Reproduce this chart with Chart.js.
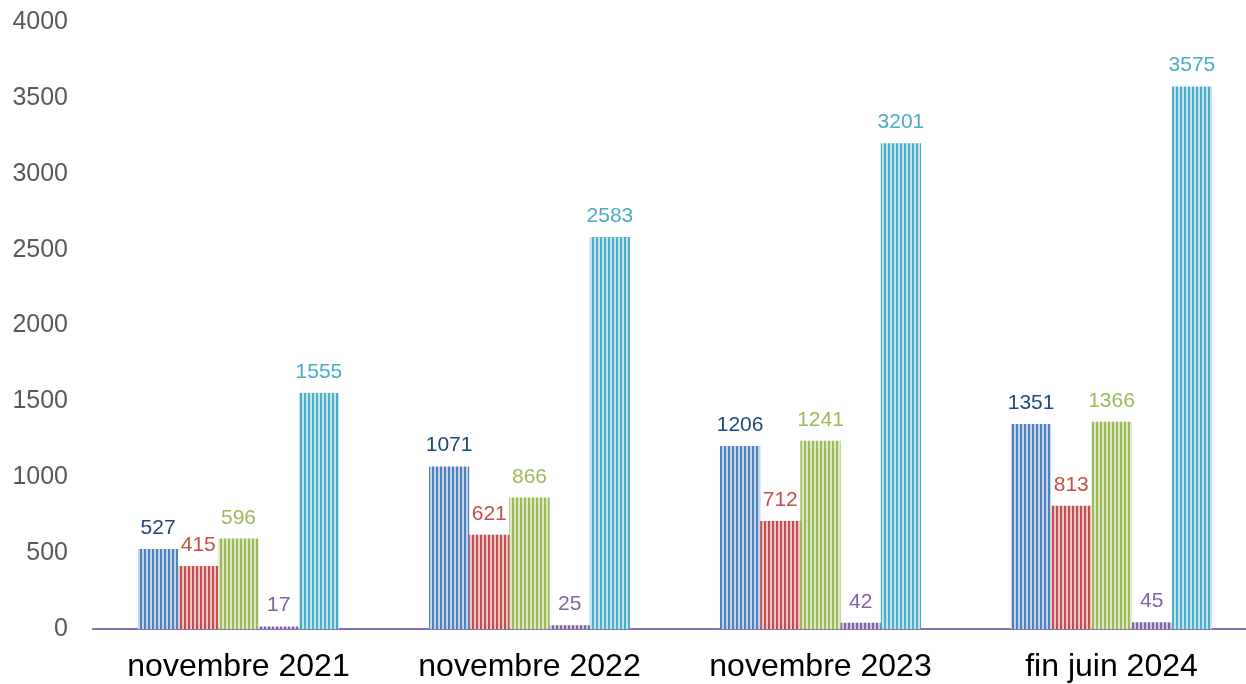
<!DOCTYPE html>
<html>
<head>
<meta charset="utf-8">
<script src="https://cdn.jsdelivr.net/npm/chart.js@4/dist/chart.umd.min.js"></script>
<style>
  html, body { margin: 0; padding: 0; background: #fff; overflow: hidden; }
  #wrap { position: relative; width: 1257px; height: 684px; }
</style>
</head>
<body>
<div id="wrap"><canvas id="c"></canvas></div>
<script>
const categories = ["novembre 2021", "novembre 2022", "novembre 2023", "fin juin 2024"];
const seriesA = [527, 1071, 1206, 1351];
const seriesB = [415, 621, 712, 813];
const seriesC = [596, 866, 1241, 1366];
const seriesD = [17, 25, 42, 45];
const seriesE = [1555, 2583, 3201, 3575];
const yTicks = [0, 500, 1000, 1500, 2000, 2500, 3000, 3500, 4000];

const barColors = ["#4F81BD", "#C0504D", "#9BBB59", "#8064A2", "#4BACC6"];
const lightColors = ["#C3D3EA", "#EBC3C2", "#DCE8C4", "#D2C7E0", "#C0E3EC"];
const labelColors = ["#1F497D", "#C0504D", "#9BBB59", "#8064A2", "#4BACC6"];

function makePattern(dark, light) {
  const p = document.createElement('canvas');
  p.width = 4; p.height = 4;
  const g = p.getContext('2d');
  g.fillStyle = light; g.fillRect(0, 0, 4, 4);
  g.fillStyle = dark; g.fillRect(0, 0, 2, 4);
  return g.createPattern(p, 'repeat');
}

const seriesList = [seriesA, seriesB, seriesC, seriesD, seriesE];
const datasets = seriesList.map((s, i) => ({
  label: 'S' + (i + 1),
  data: s,
  backgroundColor: makePattern(barColors[i], lightColors[i]),
  borderWidth: 0,
  categoryPercentage: 0.691,
  barPercentage: 1.0
}));

const valueLabels = {
  id: 'valueLabels',
  afterDatasetsDraw(chart) {
    const ctx = chart.ctx;
    ctx.save();
    ctx.font = '21px "Liberation Sans", Arial, sans-serif';
    ctx.textAlign = 'center';
    ctx.textBaseline = 'alphabetic';
    chart.data.datasets.forEach((ds, i) => {
      const meta = chart.getDatasetMeta(i);
      ctx.fillStyle = labelColors[i];
      meta.data.forEach((el, j) => {
        ctx.fillText(String(ds.data[j]), el.x, el.y - 15);
      });
    });
    ctx.restore();
  }
};

new Chart(document.getElementById('c'), {
  type: 'bar',
  data: { labels: categories, datasets },
  options: {
    responsive: true,
    maintainAspectRatio: false,
    animation: false,
    layout: { padding: { top: 22, right: 0, left: 0, bottom: 0 } },
    plugins: { legend: { display: false }, tooltip: { enabled: false } },
    scales: {
      x: {
        grid: { display: false, drawTicks: false },
        border: { display: true, color: '#8A6FB0', width: 2 },
        ticks: {
          color: '#000000',
          font: { family: '"Liberation Sans", Arial, sans-serif', size: 32 },
          padding: 19,
          maxRotation: 0
        },
        afterFit(scale) { scale.height = 55; scale.paddingLeft = 0; scale.paddingRight = 0; }
      },
      y: {
        min: 0,
        max: 4000,
        afterBuildTicks(scale) { scale.ticks = yTicks.map(v => ({ value: v })); },
        grid: { display: false, drawTicks: false },
        border: { display: false },
        ticks: {
          color: '#595959',
          font: { family: '"Liberation Sans", Arial, sans-serif', size: 25 },
          padding: 25,
          callback: (v) => String(v)
        },
        afterFit(scale) { scale.width = 93; scale.paddingTop = 0; scale.paddingBottom = 0; }
      }
    }
  },
  plugins: [valueLabels]
});
</script>
</body>
</html>
